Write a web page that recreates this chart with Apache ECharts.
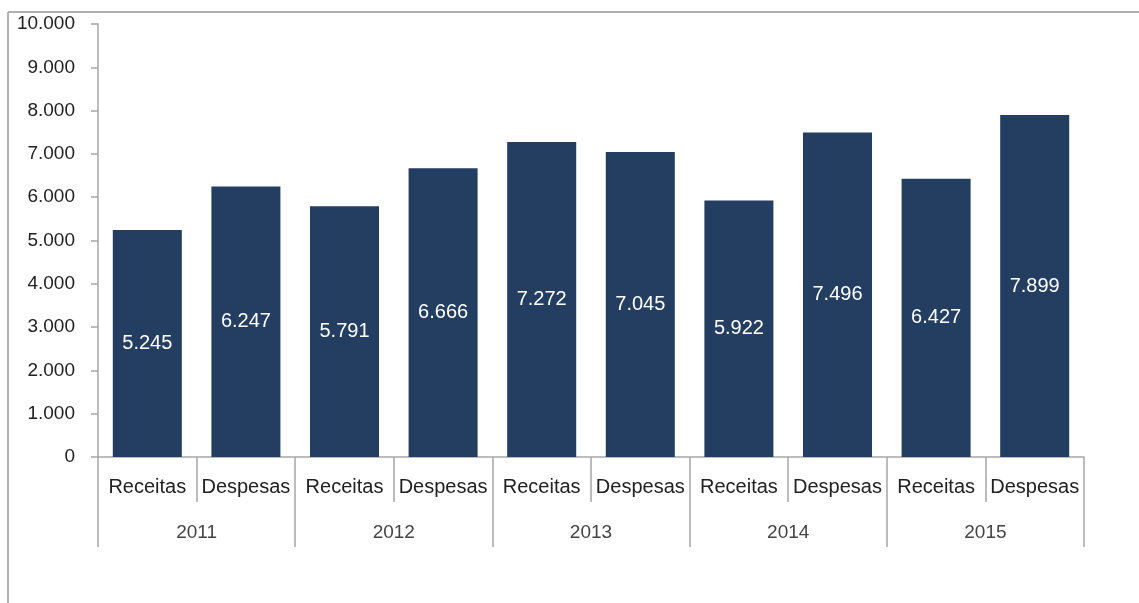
<!DOCTYPE html>
<html>
<head>
<meta charset="utf-8">
<script src="https://cdn.jsdelivr.net/npm/echarts@6/dist/echarts.min.js"></script>
<style>
  html, body { margin: 0; padding: 0; background: #fff; }
  #chart { width: 1139px; height: 603px; }
</style>
</head>
<body>
<div id="chart"></div>
<script>
// Receitas vs Despesas por ano
const years = ['2011', '2012', '2013', '2014', '2015'];
const categories = ['Receitas', 'Despesas', 'Receitas', 'Despesas', 'Receitas', 'Despesas', 'Receitas', 'Despesas', 'Receitas', 'Despesas'];
const values = [5245, 6247, 5791, 6666, 7272, 7045, 5922, 7496, 6427, 7899];
const yTicks = [0, 1000, 2000, 3000, 4000, 5000, 6000, 7000, 8000, 9000, 10000];

const fmt = v => String(v).replace(/\B(?=(\d{3})+(?!\d))/g, '.');

const chart = echarts.init(document.getElementById('chart'), null, { renderer: 'canvas' });
const axisGrey = '#a6a6a6';
const textFont = 'Arial, "Liberation Sans", sans-serif';

chart.setOption({
  animation: false,
  backgroundColor: '#ffffff',
  grid: { left: 98, right: 55, top: 24, bottom: 146, containLabel: false },
  xAxis: [
    {
      type: 'category',
      data: categories,
      position: 'bottom',
      axisLine: { show: true, lineStyle: { color: axisGrey, width: 1.5 } },
      axisTick: { show: true, interval: 0, length: 45, lineStyle: { color: axisGrey, width: 1.5 } },
      axisLabel: { interval: 0, margin: 20, color: '#222222', fontSize: 20, fontFamily: textFont }
    },
    {
      type: 'category',
      data: years,
      position: 'bottom',
      axisLine: { show: false },
      axisTick: { show: true, interval: 0, length: 90, lineStyle: { color: axisGrey, width: 1.5 } },
      axisLabel: { interval: 0, margin: 66, color: '#444444', fontSize: 19, fontFamily: textFont }
    }
  ],
  yAxis: {
    type: 'value',
    min: yTicks[0],
    max: yTicks[yTicks.length - 1],
    interval: 1000,
    axisLine: { show: true, lineStyle: { color: axisGrey, width: 1.5 } },
    axisTick: { show: true, length: 7, lineStyle: { color: axisGrey, width: 1.5 } },
    splitLine: { show: false },
    axisLabel: { margin: 23, color: '#222222', fontSize: 19, fontFamily: textFont, formatter: v => fmt(v) }
  },
  series: [{
    type: 'bar',
    xAxisIndex: 0,
    data: values,
    barCategoryGap: '30%',
    itemStyle: { color: '#243e62' },
    label: {
      show: true,
      position: 'inside',
      color: '#ffffff',
      fontSize: 20,
      fontFamily: textFont,
      formatter: p => fmt(p.value)
    }
  }],
  graphic: [
    { type: 'line', shape: { x1: 8, y1: 12, x2: 1139, y2: 12 }, style: { stroke: '#b0b0b0', lineWidth: 2 } },
    { type: 'line', shape: { x1: 8, y1: 12, x2: 8, y2: 603 }, style: { stroke: '#b0b0b0', lineWidth: 2 } }
  ]
});
</script>
</body>
</html>
